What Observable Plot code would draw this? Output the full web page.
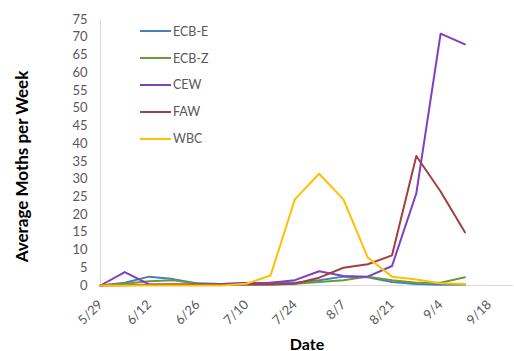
<!DOCTYPE html>
<html>
<head>
<meta charset="utf-8">
<script src="https://cdn.jsdelivr.net/npm/d3@7"></script>
<script src="https://cdn.jsdelivr.net/npm/@observablehq/plot@0.6"></script>
<style>
  body { margin: 0; background: #fff; }
  #wrap { position: relative; width: 514px; height: 351px; overflow: hidden; font-family: Lato, "Open Sans", sans-serif; }
  #legend { position: absolute; left: 140px; top: 18px; }
  #legend .row { display: flex; align-items: center; height: 26.8px; font-size: 12.5px; color: #595959; }
  #legend svg { display: block; margin-right: 2px; }
</style>
</head>
<body>
<div id="wrap"></div>
<script>
const weeks = ["2014-05-29","2014-06-05","2014-06-12","2014-06-19","2014-06-26","2014-07-03","2014-07-10","2014-07-17","2014-07-24","2014-07-31","2014-08-07","2014-08-14","2014-08-21","2014-08-28","2014-09-04","2014-09-11"];
const seriesNames = ["ECB-E","ECB-Z","CEW","FAW","WBC"];
const ecbE = [0, 0.8, 2.5, 1.8, 0.6, 0.4, 0.6, 0.8, 0.8, 1.5, 2.5, 2.3, 1.0, 0.4, 0.2, 0.3];
const ecbZ = [0, 0.5, 1.2, 1.5, 0.5, 0.3, 0.3, 0.3, 0.5, 1.0, 1.5, 2.5, 1.5, 0.8, 0.8, 2.3];
const cew  = [0, 3.8, 0.3, 0.3, 0.3, 0.4, 0.7, 0.8, 1.5, 4.0, 2.7, 2.5, 5.5, 26, 71, 68];
const faw  = [0, 0.1, 0.2, 0.3, 0.2, 0.2, 0.3, 0.3, 0.5, 2.2, 5.0, 6.0, 8.5, 36.5, 26.5, 15];
const wbc  = [0, 0, 0, 0, 0, 0, 0.5, 2.8, 24.3, 31.5, 24.3, 7.9, 2.5, 1.7, 0.6, 0.4];
const xTickDates = ["2014-05-29","2014-06-12","2014-06-26","2014-07-10","2014-07-24","2014-08-07","2014-08-21","2014-09-04","2014-09-18"];
const xTickLabels = ["5/29","6/12","6/26","7/10","7/24","8/7","8/21","9/4","9/18"];
const yTicks = d3.range(0, 80, 5);
const colors = ["#4a7ebb","#6b9a3c","#7e3fc0","#a0413e","#ffc000"];

const values = [ecbE, ecbZ, cew, faw, wbc];
const data = [];
seriesNames.forEach((s, i) => values[i].forEach((v, j) => data.push({series: s, date: new Date(weeks[j]), value: v})));
const tickDates = xTickDates.map(d => new Date(d));
const labelOf = new Map(tickDates.map((d, i) => [+d, xTickLabels[i]]));

const chart = Plot.plot({
  width: 514,
  height: 351,
  marginLeft: 100,
  marginRight: 1,
  marginTop: 19,
  marginBottom: 66,
  style: {fontFamily: "Lato, 'Open Sans', sans-serif", background: "#fff"},
  x: {type: "utc", domain: [new Date("2014-05-29"), new Date("2014-09-25")]},
  y: {domain: [0, 75]},
  color: {domain: seriesNames, range: colors},
  marks: [
    Plot.ruleX([new Date("2014-05-29")], {stroke: "#d9d9d9", strokeWidth: 1}),
    Plot.ruleY([0], {stroke: "#d9d9d9", strokeWidth: 1}),
    Plot.axisY({ticks: yTicks, tickSize: 0, tickPadding: 13, label: null, fontSize: 13, fill: "#595959"}),
    Plot.axisX({ticks: tickDates, tickFormat: d => labelOf.get(+d), tickRotate: -45, tickSize: 0, tickPadding: 17, label: null, fontSize: 13, fill: "#595959"}),
    Plot.line(data, {x: "date", y: "value", z: "series", stroke: "series", strokeWidth: 2, strokeLinejoin: "round"}),
    Plot.text(["Average Moths per Week"], {frameAnchor: "left", textAnchor: "middle", rotate: -90, dx: -78, dy: 14, fontSize: 17, fontWeight: "bold", fill: "#000"}),
    Plot.text(["Date"], {frameAnchor: "bottom", dy: 64, fontSize: 16, fontWeight: "bold", fill: "#000"})
  ]
});
const wrap = document.getElementById("wrap");
wrap.appendChild(chart);

const legend = document.createElement("div");
legend.id = "legend";
seriesNames.forEach((s, i) => {
  const row = document.createElement("div");
  row.className = "row";
  row.innerHTML = `<svg width="31" height="10"><line x1="0" x2="31" y1="5" y2="5" stroke="${colors[i]}" stroke-width="2"/></svg><span>${s}</span>`;
  legend.appendChild(row);
});
wrap.appendChild(legend);
</script>
</body>
</html>
